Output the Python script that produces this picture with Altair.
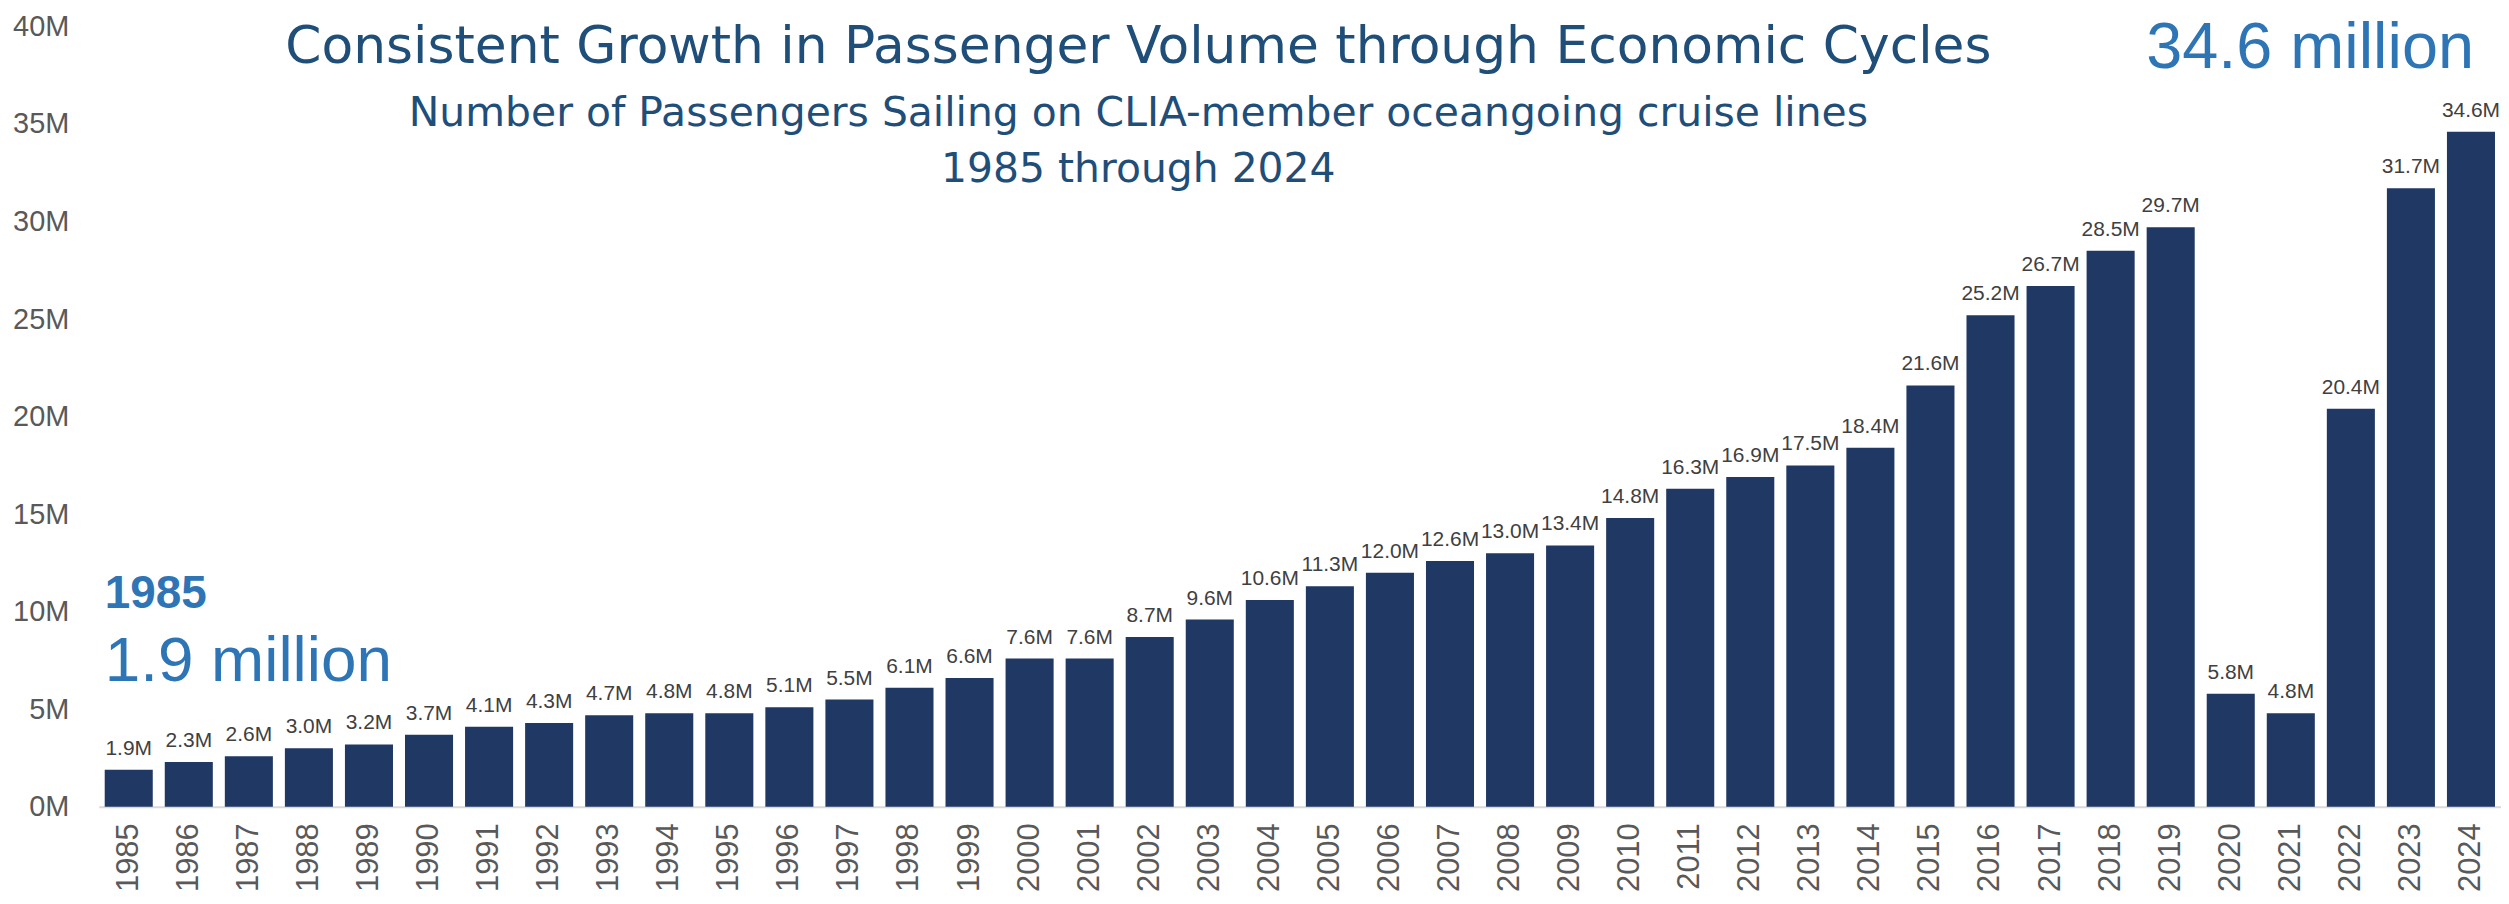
import altair as alt
import pandas as pd

# ---- data ----
years = ["1985", "1986", "1987", "1988", "1989", "1990", "1991", "1992", "1993", "1994",
         "1995", "1996", "1997", "1998", "1999", "2000", "2001", "2002", "2003", "2004",
         "2005", "2006", "2007", "2008", "2009", "2010", "2011", "2012", "2013", "2014",
         "2015", "2016", "2017", "2018", "2019", "2020", "2021", "2022", "2023", "2024"]
passengers_m = [1.9, 2.3, 2.6, 3.0, 3.2, 3.7, 4.1, 4.3, 4.7, 4.8,
                4.8, 5.1, 5.5, 6.1, 6.6, 7.6, 7.6, 8.7, 9.6, 10.6,
                11.3, 12.0, 12.6, 13.0, 13.4, 14.8, 16.3, 16.9, 17.5, 18.4,
                21.6, 25.2, 26.7, 28.5, 29.7, 5.8, 4.8, 20.4, 31.7, 34.6]
y_ticks = [0, 5, 10, 15, 20, 25, 30, 35, 40]

title_text = "Consistent Growth in Passenger Volume through Economic Cycles"
subtitle_1 = "Number of Passengers Sailing on CLIA-member oceangoing cruise lines"
subtitle_2 = "1985 through 2024"
ann_start_year = ["1985"]
ann_start_label = ["1985"]
ann_start_value = ["1.9 million"]
ann_end_year = ["2024"]
ann_end_value = ["34.6 million"]

FONT = "Liberation Sans"
TITLE_FONT = "DejaVu Sans"
BAR = "#203864"
TITLE_C = "#1F4E79"
ACCENT = "#2E75B6"

df = pd.DataFrame({"year": years, "passengers": passengers_m})

x_enc = alt.X(
    "year:O",
    sort=years,
    scale=alt.Scale(paddingInner=0.2, paddingOuter=0.1),
    axis=alt.Axis(
        title=None, labelAngle=270, labelAlign="right", labelBaseline="middle",
        labelPadding=16, labelFontSize=31, labelColor="#595959", ticks=False,
        grid=False, domainColor="#D9D9D9", domainWidth=2,
    ),
)
y_enc = alt.Y(
    "passengers:Q",
    scale=alt.Scale(domain=[0, 40]),
    axis=alt.Axis(
        title=None, values=y_ticks, labelExpr="datum.value + 'M'", domain=False,
        ticks=False, grid=False, labelPadding=30, labelFontSize=29,
        labelColor="#595959", labelOffset=0,
    ),
)

base = alt.Chart(df)
bars = base.mark_bar(color=BAR).encode(x=x_enc, y=y_enc)
labels = base.transform_calculate(
    lbl="format(datum.passengers, '.1f') + 'M'"
).mark_text(baseline="alphabetic", dy=-15, fontSize=21, color="#404040").encode(
    x=alt.X("year:O", sort=years), y="passengers:Q", text="lbl:N"
)

def title_layer(txt, size, ypix):
    return alt.Chart(pd.DataFrame({"t": [txt]})).mark_text(
        align="center", baseline="alphabetic", fontSize=size, color=TITLE_C,
        font=TITLE_FONT,
    ).encode(x=alt.value(1043), y=alt.value(ypix), text="t:N")

t1 = title_layer(title_text, 52, 37)
t2 = title_layer(subtitle_1, 41, 100)
t3 = title_layer(subtitle_2, 41, 156)

ann1 = alt.Chart(pd.DataFrame({"year": ann_start_year, "t": ann_start_label})).mark_text(
    align="left", baseline="alphabetic", fontSize=46, fontWeight="bold", color=ACCENT
).encode(x=alt.X("year:O", sort=years, bandPosition=0), y=alt.value(583), text="t:N")
ann2 = alt.Chart(pd.DataFrame({"year": ann_start_year, "t": ann_start_value})).mark_text(
    align="left", baseline="alphabetic", fontSize=64, color=ACCENT
).encode(x=alt.X("year:O", sort=years, bandPosition=0), y=alt.value(657), text="t:N")
ann3 = alt.Chart(pd.DataFrame({"year": ann_end_year, "t": ann_end_value})).mark_text(
    align="right", baseline="alphabetic", fontSize=65, dx=3, color=ACCENT
).encode(x=alt.X("year:O", sort=years), y=alt.value(42), text="t:N")

chart = alt.layer(bars, labels, t1, t2, t3, ann1, ann2, ann3).properties(
    width=2410, height=783,
    padding={"left": 91, "top": 17, "right": 0, "bottom": 88},
    autosize=alt.AutoSizeParams(type="none"),
).configure(font=FONT).configure_view(stroke=None)

chart.save("out.html", embed_options={"renderer": "svg", "actions": False})
